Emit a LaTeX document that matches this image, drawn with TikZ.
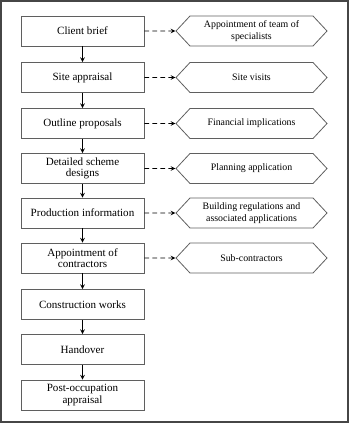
\documentclass[tikz,border=0pt]{standalone}
\usepackage{fontspec}
\setmainfont{Liberation Serif}
\usepackage{xcolor}
\usepackage{tikz}
\usetikzlibrary{shapes,arrows,positioning}
\definecolor{edge}{RGB}{95,95,95}
\definecolor{frameline}{RGB}{70,70,70}

\begin{document}
\begin{tikzpicture}[
  x=0.75pt,y=-0.75pt,
  stage/.style={draw=edge,line width=0.6pt,minimum width=92.25pt,minimum height=22.5pt,inner sep=0pt,align=center,font=\fontsize{8.3}{8.6}\selectfont},
  side/.style={draw=edge,line width=0.6pt,signal,signal to=west and east,signal pointer angle=94,minimum width=113.25pt,minimum height=22.5pt,inner sep=0pt,align=center,font=\fontsize{7.4}{8.6}\selectfont},
  arr/.style={->,>=stealth,line width=0.6pt},
  dsh/.style={->,>=stealth,line width=0.6pt,dash pattern=on 3.5pt off 2.5pt}
]
\useasboundingbox (0,0) rectangle (350,425);
\draw[frameline,line width=1pt] (1,1) rectangle (348,422);

% Stages
\node[stage] (brief)    at (82.5,31)    {Client brief};
\node[stage] (site)     at (82.5,77.5)  {Site appraisal};
\node[stage] (outline)  at (82.5,123.5) {Outline proposals};
\node[stage] (detail)   at (82.5,168.5) {Detailed scheme\\designs};
\node[stage] (prod)     at (82.5,213)   {Production information};
\node[stage] (appoint)  at (82.5,258)   {Appointment of\\contractors};
\node[stage] (works)    at (82.5,304.5) {Construction works};
\node[stage] (handover) at (82.5,349.5) {Handover};
\node[stage] (post)     at (82.5,395)   {Post-occupation\\appraisal};

% Side activities
\node[side] (team)     at (251.5,31)    {Appointment of team of\\specialists};
\node[side] (visits)   at (251.5,77.5)  {Site visits};
\node[side] (finance)  at (251.5,123.5) {Financial implications};
\node[side] (planning) at (251.5,168.5) {Planning application};
\node[side] (regs)     at (251.5,213)   {Building regulations and\\associated applications};
\node[side] (subcon)   at (251.5,258)   {Sub-contractors};

% Main sequence
\draw[arr] (brief) -- (site);
\draw[arr] (site) -- (outline);
\draw[arr] (outline) -- (detail);
\draw[arr] (detail) -- (prod);
\draw[arr] (prod) -- (appoint);
\draw[arr] (appoint) -- (works);
\draw[arr] (works) -- (handover);
\draw[arr] (handover) -- (post);

% Links to side activities
\draw[dsh] (brief) -- (team);
\draw[dsh] (site) -- (visits);
\draw[dsh] (outline) -- (finance);
\draw[dsh] (detail) -- (planning);
\draw[dsh] (prod) -- (regs);
\draw[dsh] (appoint) -- (subcon);
\end{tikzpicture}
\end{document}
